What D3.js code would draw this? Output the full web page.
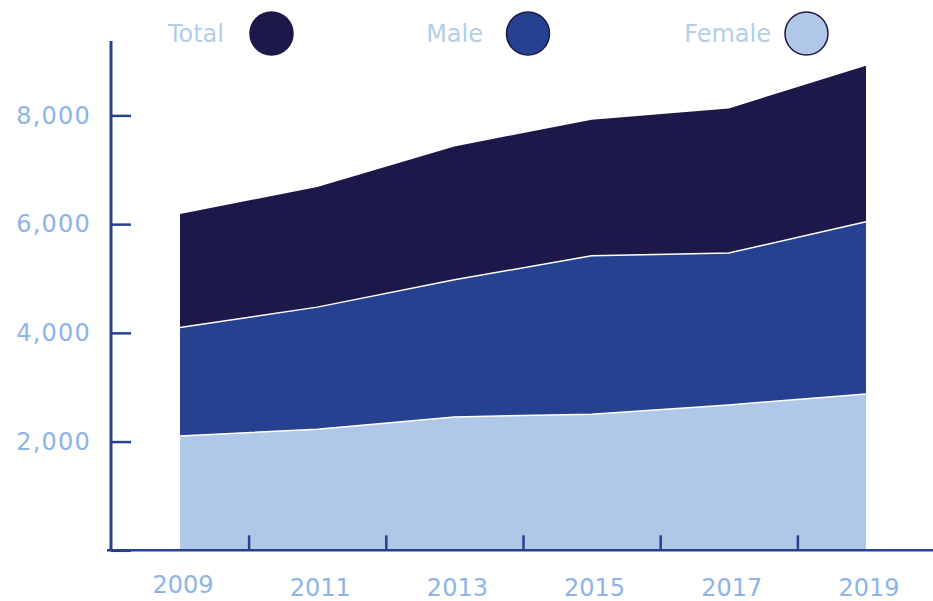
<!DOCTYPE html>
<html>
<head>
<meta charset="utf-8">
<script src="https://cdn.jsdelivr.net/npm/d3@7"></script>
<style>
    body { margin: 0; background: #fff; }
    svg { display: block; font-family: "DejaVu Sans", sans-serif; }
</style>
</head>
<body>
<svg id="chart" width="933" height="601"></svg>
<script>
const years = [2009, 2011, 2013, 2015, 2017, 2019];
const totalValues = [6185, 6682, 7429, 7921, 8129, 8915];
const maleValues = [4098, 4473, 4976, 5417, 5467, 6043];
const femaleValues = [2104, 2227, 2454, 2503, 2675, 2877];
const seriesNames = ['Total', 'Male', 'Female'];
const yTicks = [0, 2000, 4000, 6000, 8000];
const xTicks = [2010, 2012, 2014, 2016, 2018];

const colors = {
    Total: '#1c1849',
    Male: '#25418f',
    Female: '#afc8e7'
};
const axisColor = '#27418e';
const labelColor = '#8db4e8';

const svg = d3.select('#chart');

const scales = {
    x: d3.scaleLinear().domain([2009, 2019]).range([180, 866]),
    y: d3.scaleLinear().domain([0, 9350]).range([550.3, 42])
};

const series = [
    {name: 'Total', values: totalValues},
    {name: 'Male', values: maleValues},
    {name: 'Female', values: femaleValues}
];

const area = d3.area()
    .x((d, i) => scales.x(years[i]))
    .y0(scales.y(0))
    .y1(d => scales.y(d));

const line = d3.line()
    .x((d, i) => scales.x(years[i]))
    .y(d => scales.y(d));

const elAreas = svg.append('g').classed('areas', true);

series.forEach(s => {
    elAreas.append('path')
        .attr('d', area(s.values))
        .attr('fill', colors[s.name]);
    if (s.name !== 'Total') {
        elAreas.append('path')
            .attr('d', line(s.values))
            .attr('fill', 'none')
            .attr('stroke', '#fff')
            .attr('stroke-width', 1.5);
    }
});

// y axis
const axisY = d3.axisLeft(scales.y)
    .tickValues(yTicks)
    .tickSize(-20)
    .tickPadding(20)
    .tickFormat(d => d === 0 ? '' : d3.format(',')(d));

const elAxisY = svg.append('g')
    .attr('transform', 'translate(111,0)')
    .call(axisY);
elAxisY.select('.domain').remove();
elAxisY.selectAll('.tick line')
    .attr('stroke', axisColor)
    .attr('stroke-width', 2.5);
elAxisY.selectAll('.tick text')
    .attr('fill', labelColor)
    .attr('font-size', 24)
    .attr('letter-spacing', 1.2)
    .attr('font-family', '"DejaVu Sans", sans-serif');

svg.append('line')
    .attr('x1', 111).attr('x2', 111)
    .attr('y1', 41).attr('y2', scales.y(0) + 1)
    .attr('stroke', axisColor)
    .attr('stroke-width', 3);

// x axis
const axisX = d3.axisBottom(scales.x)
    .tickValues(xTicks)
    .tickSize(-15)
    .tickFormat('');

const elAxisX = svg.append('g')
    .attr('transform', `translate(0,${scales.y(0)})`)
    .call(axisX);
elAxisX.select('.domain').remove();
elAxisX.selectAll('.tick line')
    .attr('stroke', axisColor)
    .attr('stroke-width', 2.5);

svg.append('line')
    .attr('x1', 107).attr('x2', 933)
    .attr('y1', scales.y(0)).attr('y2', scales.y(0))
    .attr('stroke', axisColor)
    .attr('stroke-width', 2.5);

svg.append('g')
    .selectAll('text')
    .data(years)
    .join('text')
    .attr('x', d => scales.x(d) + 3)
    .attr('y', (d, i) => i === 0 ? 593 : 596)
    .attr('text-anchor', 'middle')
    .attr('fill', labelColor)
    .attr('font-size', 24)
    .text(d => d);

// legend
const legendPos = {
    Total: {text: 224, cx: 271.5},
    Male: {text: 483, cx: 528},
    Female: {text: 771, cx: 806.5}
};

const elLegend = svg.append('g').classed('legend', true);
seriesNames.forEach(name => {
    elLegend.append('text')
        .attr('x', legendPos[name].text)
        .attr('y', 42)
        .attr('text-anchor', 'end')
        .attr('fill', '#b3cdeb')
        .attr('font-size', 24)
        .text(name);
    elLegend.append('ellipse')
        .attr('cx', legendPos[name].cx)
        .attr('cy', 33.5)
        .attr('rx', 21.5)
        .attr('ry', 21.5)
        .attr('fill', colors[name])
        .attr('stroke', '#1c1849')
        .attr('stroke-width', 1.5);
});
</script>
</body>
</html>
